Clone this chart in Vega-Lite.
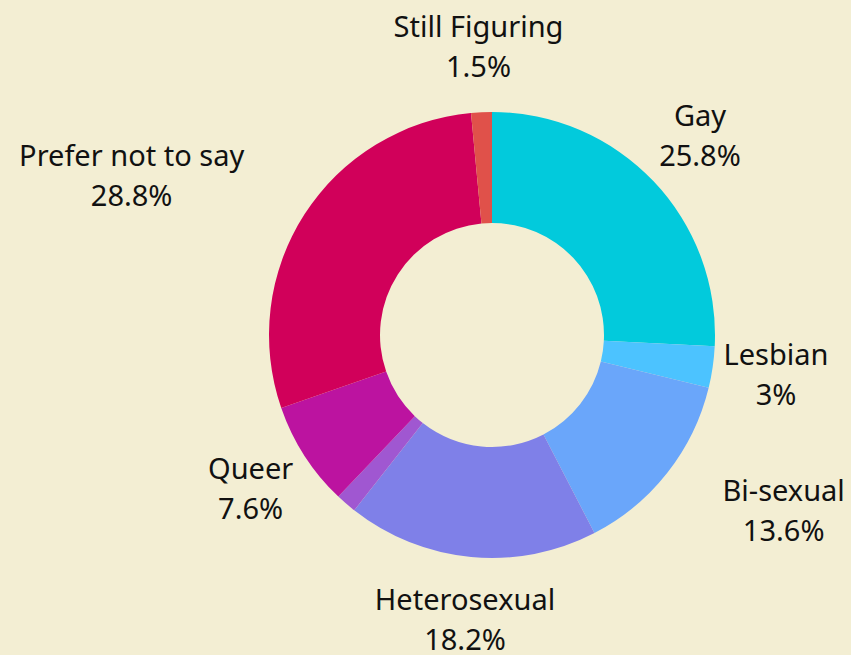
{
  "$schema": "https://vega.github.io/schema/vega-lite/v6.json",
  "width": 718,
  "height": 640,
  "autosize": {"type": "none"},
  "padding": {"left": 133, "top": 15, "right": 0, "bottom": 0},
  "background": "#F3EED3",
  "config": {"view": {"stroke": null}},
  "data": {
    "values": [
      {"i": 1, "category": "Gay", "value": 25.8, "label": "Gay\n25.8%"},
      {"i": 2, "category": "Lesbian", "value": 3.0, "label": "Lesbian\n3%"},
      {"i": 3, "category": "Bi-sexual", "value": 13.6, "label": "Bi-sexual\n13.6%"},
      {"i": 4, "category": "Heterosexual", "value": 18.2, "label": "Heterosexual\n18.2%"},
      {"i": 5, "category": "Other", "value": 1.5, "label": ""},
      {"i": 6, "category": "Queer", "value": 7.6, "label": "Queer\n7.6%"},
      {"i": 7, "category": "Prefer not to say", "value": 28.8, "label": "Prefer not to say\n28.8%"},
      {"i": 8, "category": "Still Figuring", "value": 1.5, "label": "Still Figuring\n1.5%"}
    ]
  },
  "encoding": {
    "theta": {"field": "value", "type": "quantitative", "stack": true},
    "order": {"field": "i", "type": "quantitative"}
  },
  "layer": [
    {
      "mark": {"type": "arc", "outerRadius": 223, "innerRadius": 112},
      "encoding": {
        "color": {
          "field": "category",
          "type": "nominal",
          "sort": null,
          "scale": {
            "domain": ["Gay", "Lesbian", "Bi-sexual", "Heterosexual", "Other", "Queer", "Prefer not to say", "Still Figuring"],
            "range": ["#02CADC", "#4CC3FF", "#6AA6FA", "#7F80E8", "#A057D1", "#BC13A0", "#D1005A", "#E0514A"]
          },
          "legend": null
        }
      }
    },
    {
      "mark": {"type": "text", "radius": 287, "dy": -20, "fontSize": 29, "font": "Noto Sans", "color": "#111111", "lineBreak": "\n", "lineHeight": 40, "align": "center", "baseline": "middle"},
      "encoding": {"text": {"condition": {"test": "datum.category !== 'Bi-sexual' && datum.category !== 'Prefer not to say'", "field": "label"}, "value": ""}}
    },
    {
      "mark": {"type": "text", "radius": 287, "dx": 66, "dy": -20, "fontSize": 29, "font": "Noto Sans", "color": "#111111", "lineBreak": "\n", "lineHeight": 40, "align": "center", "baseline": "middle"},
      "encoding": {"text": {"condition": {"test": "datum.category === 'Bi-sexual'", "field": "label"}, "value": ""}}
    },
    {
      "mark": {"type": "text", "radius": 287, "dx": -119, "dy": -23, "fontSize": 29, "font": "Noto Sans", "color": "#111111", "lineBreak": "\n", "lineHeight": 40, "align": "center", "baseline": "middle"},
      "encoding": {"text": {"condition": {"test": "datum.category === 'Prefer not to say'", "field": "label"}, "value": ""}}
    }
  ]
}
